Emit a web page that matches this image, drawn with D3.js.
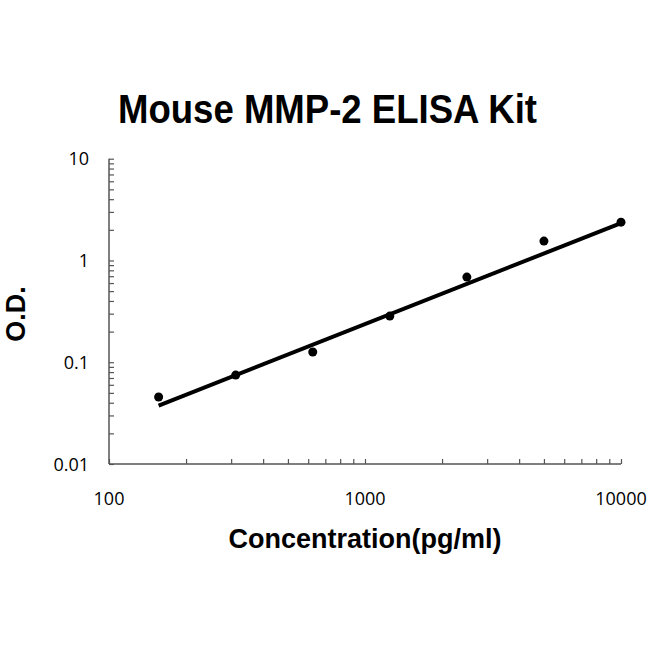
<!DOCTYPE html>
<html>
<head>
<meta charset="utf-8">
<script src="https://cdn.jsdelivr.net/npm/d3@7"></script>
<style>
  body { margin: 0; background: #fff; }
  svg text { font-family: Arial, "Liberation Sans", sans-serif; }
  svg text.tick-label { font-family: "Open Sans", "Noto Sans", sans-serif; }
</style>
</head>
<body>
<div id="chart"></div>
<script>
const concentrations = [156.25, 312.5, 625, 1250, 2500, 5000, 10000];
const odValues = [0.0455, 0.0748, 0.126, 0.284, 0.687, 1.55, 2.38];
// fitted curve, read at the two ends
const fitPoints = [[156.25, 0.0375], [10000, 2.33]];
const xTicks = [100, 1000, 10000];
const yTicks = [0.01, 0.1, 1, 10];

const width = 650, height = 650;
const plotLeft = 109, plotRight = 621, plotTop = 158.7, plotBottom = 464;

const svg = d3.select("#chart").append("svg")
    .attr("width", width)
    .attr("height", height);

const x = d3.scaleLog().domain([100, 10000]).range([plotLeft, plotRight]);
const y = d3.scaleLog().domain([0.01, 10]).range([plotBottom, plotTop]);

// minor ticks for each decade
function logTicks(lo, hi) {
    const t = [];
    for (let d = lo; d < hi; d *= 10) {
        for (let k = 1; k <= 10; k++) t.push(d * k);
    }
    return Array.from(new Set(t.map(v => +v.toPrecision(6))));
}

const axisColor = "#555";

// y axis
const yAxis = svg.append("g")
    .attr("transform", `translate(${plotLeft},0)`)
    .call(d3.axisRight(y).tickValues(logTicks(0.01, 10)).tickSize(5).tickFormat(""));
yAxis.select(".domain").attr("stroke", axisColor).attr("stroke-width", 1.5).attr("d", `M0,${plotBottom}V${plotTop}`);
yAxis.selectAll(".tick line").attr("stroke", axisColor).attr("stroke-width", 1.2);

svg.selectAll(".ylab")
    .data(yTicks)
    .enter()
    .append("text")
    .attr("class", "tick-label")
    .attr("x", 89)
    .attr("y", d => y(d) + 6.5)
    .attr("text-anchor", "end")
    .attr("font-size", 18)
    .text(d => d);

// x axis
const xAxis = svg.append("g")
    .attr("transform", `translate(0,${plotBottom})`)
    .call(d3.axisTop(x).tickValues(logTicks(100, 10000)).tickSize(5).tickFormat(""));
xAxis.select(".domain").attr("stroke", axisColor).attr("stroke-width", 1.5).attr("d", `M${plotLeft},0H${plotRight}`);
xAxis.selectAll(".tick line").attr("stroke", axisColor).attr("stroke-width", 1.2);

svg.selectAll(".xlab")
    .data(xTicks)
    .enter()
    .append("text")
    .attr("class", "tick-label")
    .attr("x", d => x(d))
    .attr("y", 505)
    .attr("text-anchor", "middle")
    .attr("font-size", 18)
    .text(d => d);

// fit line
svg.append("line")
    .attr("x1", x(fitPoints[0][0]))
    .attr("y1", y(fitPoints[0][1]))
    .attr("x2", x(fitPoints[1][0]))
    .attr("y2", y(fitPoints[1][1]))
    .attr("stroke", "#000")
    .attr("stroke-width", 4);

// data points
svg.selectAll(".pt")
    .data(concentrations)
    .enter()
    .append("circle")
    .attr("cx", d => x(d))
    .attr("cy", (d, i) => y(odValues[i]))
    .attr("r", 4.5)
    .attr("fill", "#000");

// titles
svg.append("text")
    .attr("x", 118)
    .attr("y", 123)
    .attr("font-size", 40)
    .attr("font-weight", "bold")
    .attr("textLength", 419)
    .attr("lengthAdjust", "spacingAndGlyphs")
    .text("Mouse MMP-2 ELISA Kit");

svg.append("text")
    .attr("x", 365)
    .attr("y", 548)
    .attr("text-anchor", "middle")
    .attr("font-size", 27)
    .attr("font-weight", "bold")
    .text("Concentration(pg/ml)");

svg.append("text")
    .attr("transform", "translate(25,314) rotate(-90)")
    .attr("text-anchor", "middle")
    .attr("font-size", 27)
    .attr("font-weight", "bold")
    .text("O.D.");
</script>
</body>
</html>
